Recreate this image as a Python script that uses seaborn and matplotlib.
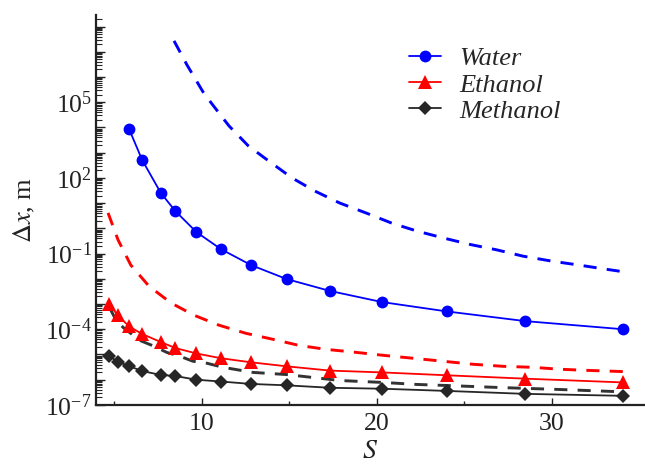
import numpy as np
import matplotlib
matplotlib.use("Agg")
import matplotlib.pyplot as plt
import matplotlib.ticker as mticker
import seaborn as sns

# S values for the marker points
S = [4.7, 5.2, 5.85, 6.6, 7.67, 8.5, 9.7, 11.1, 12.82, 14.85, 17.33, 20.3, 24.0, 28.5, 34.1]
S_water = S[2:]

# solid curves with markers
water = [8.7e3, 5.1e2, 25, 4.8, 0.71, 0.15, 0.035, 9.8e-3, 3.3e-3, 1.2e-3, 5.1e-4, 2.1e-4, 1.0e-4]
ethanol = [1.0e-3, 3.6e-4, 1.3e-4, 6.5e-5, 3.1e-5, 1.8e-5, 1.1e-5, 7.1e-6, 4.9e-6, 3.4e-6,
           2.3e-6, 1.95e-6, 1.5e-6, 1.1e-6, 7.8e-7]
methanol = [8.9e-6, 5.1e-6, 3.5e-6, 2.2e-6, 1.55e-6, 1.4e-6, 1.0e-6, 8.5e-7, 6.8e-7, 6.0e-7,
            4.8e-7, 4.4e-7, 3.6e-7, 2.75e-7, 2.3e-7]

# dashed curves (no markers)
S_water_d = [8.42, 9.16, 10.07, 10.59, 11.56, 12.65, 13.9, 15.16, 16.47, 17.9, 19.38, 20.87,
             22.3, 23.84, 25.33, 26.87, 28.36, 30.02, 31.56, 33.1, 34.1]
water_d = [2.7e7, 3.0e6, 2.6e5, 8.5e4, 1.15e4, 1.9e3, 4.3e2, 1.0e2, 30, 10, 4.1, 1.6,
           0.78, 0.41, 0.23, 0.14, 0.079, 0.050, 0.035, 0.024, 0.019]
S_ethanol_d = [4.65, 5.22, 5.95, 6.99, 8.25, 9.56, 10.99, 12.53, 14.07, 15.55, 17.1, 18.65,
               20.36, 22.07, 23.79, 25.5, 27.22, 28.93, 30.47, 32.02, 34.1]
ethanol_d = [4.1, 0.35, 0.035, 5.1e-3, 1.1e-3, 3.6e-4, 1.45e-4, 6.9e-5, 4.0e-5, 2.3e-5, 1.6e-5,
             1.25e-5, 9.3e-6, 7.1e-6, 5.4e-6, 4.1e-6, 3.4e-6, 3.1e-6, 2.6e-6, 2.35e-6, 2.1e-6]
S_methanol_d = [4.7, 5.05, 5.5, 6.47, 7.16, 8.02, 8.76, 9.5, 10.3, 11.22, 12.93, 14.87, 17.9,
                20.36, 22.3, 24.02, 27.05, 30.47, 34.1]
methanol_d = [7.9e-4, 2.75e-4, 1.2e-4, 3.6e-5, 2.3e-5, 1.2e-5, 8.5e-6, 5.4e-6, 4.5e-6, 3.1e-6,
              1.95e-6, 1.6e-6, 9.3e-7, 7.8e-7, 6.5e-7, 5.9e-7, 4.9e-7, 4.1e-7, 3.3e-7]

sns.set_style("ticks")
plt.rcParams['font.family'] = ['Liberation Serif', 'DejaVu Serif']
plt.rcParams['mathtext.fontset'] = 'stix'

fig = plt.figure(figsize=(6.45, 4.66), dpi=100)
ax = fig.add_axes([0.1488, 0.131, 0.8512, 0.837])

blue, red, black = '#0000ff', '#ff0000', '#262626'

# dashed
for x, y, c in [(S_water_d, water_d, blue), (S_ethanol_d, ethanol_d, red),
                (S_methanol_d, methanol_d, '#333333')]:
    sns.lineplot(x=x, y=y, ax=ax, color=c, lw=2.1, sort=False, legend=False,
                 dashes=False, linestyle=(0, (4.5, 3.5)))

# solid with markers
sns.lineplot(x=S_water, y=water, ax=ax, color=blue, lw=1.3, marker='o', markersize=8.5,
             markeredgewidth=0, label='Water', sort=False)
sns.lineplot(x=S, y=ethanol, ax=ax, color=red, lw=1.3, marker='^', markersize=10,
             markeredgewidth=0, label='Ethanol', sort=False)
sns.lineplot(x=S, y=methanol, ax=ax, color=black, lw=1.3, marker='D', markersize=6.8,
             markeredgewidth=0, label='Methanol', sort=False)

ax.set_yscale('log')
ax.set_xlim(3.96, 35.33)
ax.set_ylim(1e-7, 10 ** 8.46)

ax.yaxis.set_major_locator(mticker.LogLocator(base=10, numticks=30))
ax.yaxis.set_minor_locator(mticker.LogLocator(base=10, subs=np.arange(2, 10), numticks=30))


def fmt(v, pos):
    e = int(round(np.log10(v)))
    if e % 3 == 2 and e <= 5:
        return r'$\mathdefault{10^{%d}}$' % e
    return ''


ax.yaxis.set_major_formatter(mticker.FuncFormatter(fmt))
ax.yaxis.set_minor_formatter(mticker.NullFormatter())
ax.xaxis.set_major_locator(mticker.FixedLocator([10, 20, 30]))
ax.xaxis.set_minor_locator(mticker.FixedLocator([5, 15, 25]))

sns.despine(ax=ax)
for sp in ['left', 'bottom']:
    ax.spines[sp].set_linewidth(1.6)
    ax.spines[sp].set_color('#222222')

ax.tick_params(axis='y', which='major', direction='in', length=6.5, width=1.0, pad=3,
               labelsize=18.5, colors='#222222')
ax.tick_params(axis='y', which='minor', direction='in', length=4.3, width=0.8)
ax.tick_params(axis='x', which='major', direction='in', length=5, width=1.0, pad=6,
               labelsize=18.5, colors='#222222')
ax.tick_params(axis='x', which='minor', direction='in', length=3, width=1.0)

ax.set_ylabel(r'$\Delta x$, m', fontsize=19, color='#222222', labelpad=6)
ax.set_xlabel(r'$S$', fontsize=20, color='#222222', labelpad=3)

ax.legend(loc='upper left', bbox_to_anchor=(0.551, 0.945), frameon=False,
          prop={'family': 'Liberation Serif', 'style': 'italic', 'size': 19},
          handlelength=1.2, handletextpad=0.7, labelspacing=0.1, borderaxespad=0)

fig.savefig('out.png', dpi=100)
